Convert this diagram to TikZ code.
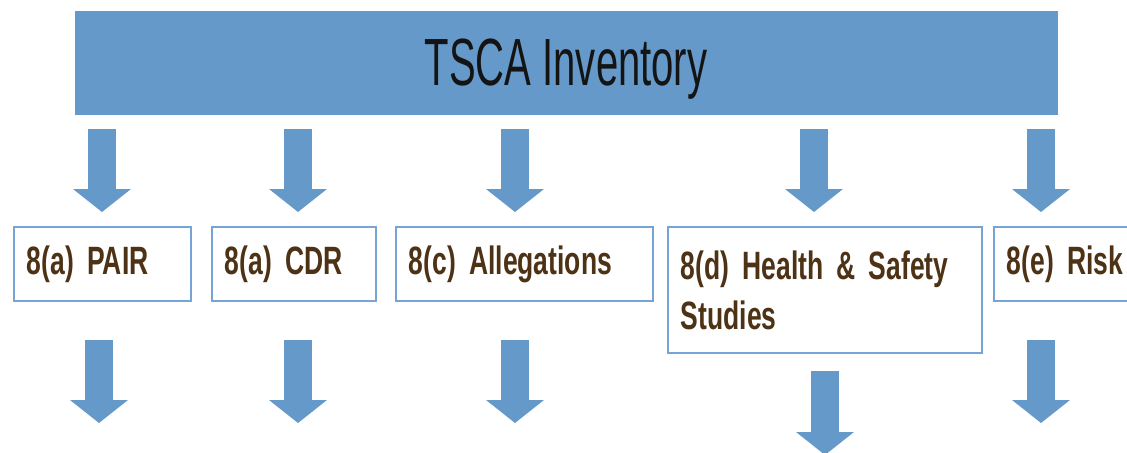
\documentclass[tikz,border=0pt]{standalone}
\usepackage{fontspec}
\setmainfont{Liberation Sans}
\newfontfamily\titlefont[FakeStretch=0.60]{Liberation Sans}
\newfontfamily\boxfont[FakeStretch=0.67]{Liberation Sans}
\usetikzlibrary{arrows.meta, positioning}
\definecolor{tscablue}{HTML}{6599C9}
\definecolor{tscaline}{HTML}{76A4D4}
\definecolor{tscabrown}{HTML}{4E3215}
\definecolor{tscaink}{HTML}{141414}
\tikzset{banner/.style={fill=tscablue, draw=tscablue, minimum width=19.64cm, minimum height=2.06cm, inner sep=0pt, text depth=0pt, text=tscaink, font=\titlefont\fontsize{38}{40}\selectfont}}
\tikzset{sectionbox/.style={draw=tscaline, line width=0.04cm, fill=white, inner xsep=0.26cm, inner ysep=0pt, minimum height=1.48cm, align=left, text=tscabrown, font=\boxfont\bfseries\fontsize{22.5}{28.5}\selectfont}}
\tikzset{flowarrow/.style={draw=tscablue, line width=0.56cm, -{Triangle[width=1.16cm, length=0.46cm, line width=0pt]}}}

\begin{document}
\begin{tikzpicture}[x=0.02cm, y=-0.02cm]
\clip (0,0) rectangle (1127,453);

\node[banner] (inv) at (566,62.5) {TSCA Inventory};

\node[sectionbox, anchor=north west, text width=3.02cm] (pair) at (13,226) {8(a) PAIR};
\node[sectionbox, right = 0.38cm of pair, text width=2.76cm] (cdr) {8(a) CDR};
\node[sectionbox, right = 0.36cm of cdr, text width=4.62cm] (alleg) {8(c) Allegations};
\node[sectionbox, right = 0.26cm of alleg.north east, anchor=north west, text width=5.76cm, minimum height=2.52cm] (health) {8(d) Health \& Safety\\Studies};
\node[sectionbox, right = 0.20cm of health.north east, anchor=north west, text width=2.40cm] (risk) {8(e) Risk};

% arrows out of the inventory
\foreach \n/\x in {pair/102, cdr/298, alleg/515, health/814, risk/1041}{
    \coordinate (\n-in) at (\x,129);
    \coordinate (\n-top) at (\x,212);
    \draw[flowarrow] (\n-in) -- (\n-top);
}

% arrows below the boxes
\foreach \n/\x in {pair/99, cdr/298, alleg/515, risk/1041}{
    \coordinate (\n-out) at (\x,340);
    \coordinate (\n-end) at (\x,423);
    \draw[flowarrow] (\n-out) -- (\n-end);
}
\coordinate (health-out) at (825,371);
\coordinate (health-end) at (825,455);
\draw[flowarrow] (health-out) -- (health-end);

\end{tikzpicture}
\end{document}
